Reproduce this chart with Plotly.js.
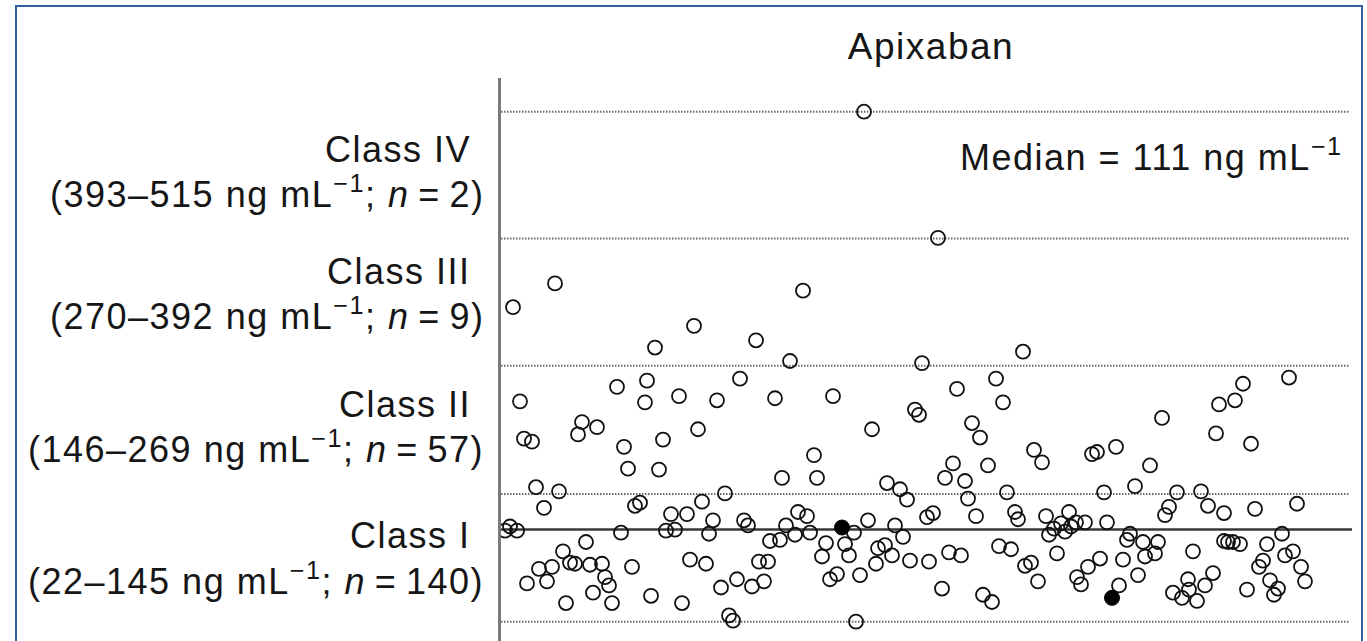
<!DOCTYPE html>
<html>
<head>
<meta charset="utf-8">
<script src="https://cdn.plot.ly/plotly-3.0.1.min.js"></script>
<style>
  html, body { margin: 0; padding: 0; background: #ffffff; }
  #wrap { position: relative; width: 1367px; height: 641px; overflow: hidden; background: #ffffff; }
  #frame { position: absolute; left: 15px; top: 5px; width: 1348px; height: 700px;
           border: 2.5px solid #31609a; border-bottom: none; box-sizing: border-box; }
  #chart { position: relative; width: 1367px; height: 641px; }
  svg text { letter-spacing: 1.5px; }
</style>
</head>
<body>
<div id="wrap">
  <div id="frame"></div>
  <div id="chart"></div>
</div>
<script>
// ---- Data (apixaban plasma concentration, ng/mL; x = jitter position, arbitrary units) ----
const classIV_pos  = [364, 438];
const classIV_conc = [515, 393];

const classIII_pos  = [13, 55, 155, 194, 256, 290, 303, 422, 523];
const classIII_conc = [326, 349, 287, 308, 294, 274, 342, 272, 283];

const classII_pos  = [20,24,32,36,59,78,82,97,117,124,128,145,147,159,163,179,198,217,225,240,
                      275,282,314,317,333,372,387,400,415,419,445,453,457,465,472,480,488,496,503,507,
                      534,542,592,597,604,616,635,650,662,677,701,716,719,735,743,751,789];
const classII_conc = [235,199,196,152,148,203,215,210,249,191,170,234,255,169,198,240,208,236,146,257,
                      238,161,183,161,240,208,156,150,227,222,161,175,247,158,214,200,173,257,234,147,
                      188,176,184,186,147,191,153,173,219,147,148,204,232,236,252,194,258];

const classI_pos  = [5,10,17,27,39,44,47,52,63,66,70,75,86,90,93,102,105,109,112,121,132,135,140,151,
                     166,171,175,182,187,190,202,206,209,213,221,229,233,237,244,248,252,259,264,268,270,280,286,
                     295,298,307,310,322,326,330,337,345,349,354,356,360,368,376,378,385,392,395,403,407,410,427,429,433,442,
                     449,461,468,476,483,492,499,511,515,518,525,531,538,546,549,554,557,561,565,569,571,576,577,581,
                     585,588,600,607,619,623,627,630,638,643,645,655,658,665,669,673,682,688,689,693,697,705,708,713,724,724,
                     728,733,740,747,755,759,763,767,770,774,778,782,785,793,797,801,805];
const classI_conc = [110,114,110,59,73,132,61,75,90,40,79,78,99,77,50,78,65,57,40,108,75,134,137,47,
                     110,126,111,40,126,82,138,78,107,120,55,28,23,63,120,115,56,80,61,80,100,101,115,
                     106,128,124,108,85,98,63,68,97,86,108,22,67,120,78,93,96,86,115,104,140,81,123,80,127,54,
                     89,86,141,124,48,41,95,92,128,121,76,79,61,124,106,112,88,117,109,128,114,118,65,58,
                     118,75,83,118,57,82,101,107,67,99,85,88,99,125,133,50,45,63,53,90,42,57,134,69,127,100,
                     99,99,97,53,131,75,81,97,62,48,54,107,86,90,136,75,61];

const filled_pos  = [342, 612];
const filled_conc = [113, 45];

const classBounds = [22, 145.5, 269.5, 392.5, 515];
const medianConc = 111;

const classNames  = ["Class IV", "Class III", "Class II", "Class I"];
const classRanges = ["(393\u2013515 ng mL<sup>\u22121</sup>; <i>n</i>\u2009=\u20092)",
                     "(270\u2013392 ng mL<sup>\u22121</sup>; <i>n</i>\u2009=\u20099)",
                     "(146\u2013269 ng mL<sup>\u22121</sup>; <i>n</i>\u2009=\u200957)",
                     "(22\u2013145 ng mL<sup>\u22121</sup>; <i>n</i>\u2009=\u2009140)"];
const chartTitle = "Apixaban";
const medianLabel = "Median = 111 ng mL<sup>\u22121</sup>";

// ---- Layout geometry ----
const W = 1367, H = 641;
const M = {l: 501, r: 15, t: 78, b: 0};
const PW = W - M.l - M.r, PH = H - M.t - M.b;
const pxX = p => (p - M.l) / PW;
const pxY = p => (H - M.b - p) / PH;

const FONT = 'Liberation Sans, Arial, Helvetica, sans-serif';
const TXT = '#161616';

const openPos  = [].concat(classI_pos, classII_pos, classIII_pos, classIV_pos);
const openConc = [].concat(classI_conc, classII_conc, classIII_conc, classIV_conc);

const traces = [
  { type: 'scatter', mode: 'markers', x: openPos, y: openConc, hoverinfo: 'skip',
    marker: { symbol: 'circle-open', size: 14, color: '#111111', line: { width: 1.8, color: '#111111' } } },
  { type: 'scatter', mode: 'markers', x: filled_pos, y: filled_conc, hoverinfo: 'skip',
    marker: { symbol: 'circle', size: 15, color: '#000000', line: { width: 1, color: '#000000' } } }
];

const shapes = classBounds.map(v => ({
  type: 'line', layer: 'below', xref: 'paper', yref: 'y',
  x0: 0, x1: pxX(1349), y0: v, y1: v,
  line: { color: '#6a6a6a', width: 2, dash: '1.5px,1.5px' }
}));
shapes.push({ type: 'line', layer: 'below', xref: 'paper', yref: 'y',
  x0: 0, x1: 1, y0: medianConc, y1: medianConc,
  line: { color: '#383838', width: 2.5 } });

const classNameY  = [149, 271, 404, 535];
const classRangeY = [192, 314, 447, 579];
const annotations = [];
classNames.forEach((t, i) => {
  annotations.push({ text: t, xref: 'paper', yref: 'paper', x: pxX(472), y: pxY(classNameY[i]),
    xanchor: 'right', yanchor: 'middle', showarrow: false, borderpad: 0,
    font: { family: FONT, size: 36, color: TXT } });
  annotations.push({ text: classRanges[i], xref: 'paper', yref: 'paper', x: pxX(485), y: pxY(classRangeY[i]),
    xanchor: 'right', yanchor: 'middle', showarrow: false, borderpad: 0,
    font: { family: FONT, size: 36, color: TXT } });
});
annotations.push({ text: medianLabel, xref: 'paper', yref: 'paper', x: pxX(1344), y: pxY(155),
  xanchor: 'right', yanchor: 'middle', showarrow: false, borderpad: 0,
  font: { family: FONT, size: 36, color: TXT } });

const layout = {
  width: W, height: H, margin: M,
  paper_bgcolor: 'rgba(0,0,0,0)', plot_bgcolor: 'rgba(0,0,0,0)',
  showlegend: false,
  title: { text: chartTitle, xref: 'paper', x: pxX(931), xanchor: 'center',
           yref: 'container', y: 1 - 46 / H, yanchor: 'middle',
           font: { family: FONT, size: 37, color: TXT } },
  xaxis: { range: [1, 852], showgrid: false, zeroline: false, showticklabels: false,
           ticks: '', showline: false, fixedrange: true },
  yaxis: { range: [3.3, 547.6], showgrid: false, zeroline: false, showticklabels: false,
           ticks: '', showline: true, linecolor: '#7a7a7a', linewidth: 2.5, fixedrange: true },
  shapes: shapes,
  annotations: annotations
};

Plotly.newPlot('chart', traces, layout, { displayModeBar: false }).then(gd => {
  // expose each text's size as an attribute too (plotly sets it only via inline style)
  gd.querySelectorAll('text').forEach(t => {
    const fs = t.style.fontSize;
    if (fs) t.setAttribute('font-size', parseFloat(fs));
  });
});
</script>
</body>
</html>
